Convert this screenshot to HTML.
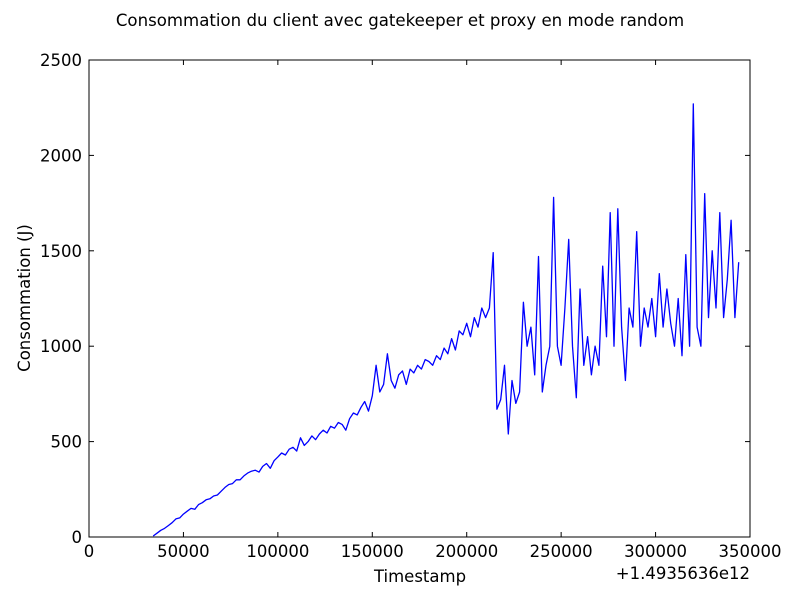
<!DOCTYPE html>
<html><head><meta charset="utf-8"><style>
body{margin:0;background:#fff}
svg text{font-family:"DejaVu Sans","Liberation Sans",sans-serif;fill:#000}
</style></head><body>
<svg id="chart" width="800" height="600" xmlns="http://www.w3.org/2000/svg">
<rect width="800" height="600" fill="#fff"/>
<text x="400" y="26" text-anchor="middle" font-size="16.6">Consommation du client avec gatekeeper et proxy en mode random</text>
<g id="ticks"></g>
<polyline id="line" fill="none" stroke="#0000ff" stroke-width="1.3" stroke-linejoin="round"/>
<rect x="89" y="60" width="661" height="477" fill="none" stroke="#000" stroke-width="1"/>
<text x="420" y="582" text-anchor="middle" font-size="16.5">Timestamp</text>
<text x="750" y="579" text-anchor="end" font-size="16.5">+1.4935636e12</text>
<text transform="translate(30,298) rotate(-90)" text-anchor="middle" font-size="16.5">Consommation (J)</text>
</svg>
<script>
const xStart = 34000;
const xStep = 2000;
const values = [5,20,35,45,60,75,95,100,120,135,150,145,170,180,195,200,215,220,240,260,275,280,300,300,320,335,345,350,340,370,385,360,400,420,
440,430,460,470,450,520,480,500,530,510,540,560,545,580,570,600,590,560,620,650,640,680,710,660,740,900,760,800,960,820,780,850,870,800,880,860,900,880,930,920,900,950,930,990,960,1040,980,1080,1060,1120,1050,1150,1100,1200,1150,1200,1490,670,720,900,540,820,700,760,1230,1000,1100,850,1470,760,900,1000,1780,1000,900,1200,1560,1000,730,1300,900,1050,850,1000,900,1420,1050,1700,1000,1720,1100,820,1200,1100,1600,1000,1200,1100,1250,1050,1380,1100,1300,1120,1000,1250,950,1480,1000,2270,1100,1000,1800,1150,1500,1200,1700,1150,1350,1660,1150,1440];
const xTicks = [0,50000,100000,150000,200000,250000,300000,350000];
const yTicks = [0,500,1000,1500,2000,2500];
const X0=89,X1=750,Y0=537,Y1=60;
const sx=v=>X0+(X1-X0)*v/350000;
const sy=v=>Y0-(Y0-Y1)*v/2500;
const ns="http://www.w3.org/2000/svg";
const g=document.getElementById('ticks');
function mk(tag,attrs){const e=document.createElementNS(ns,tag);for(const k in attrs)e.setAttribute(k,attrs[k]);g.appendChild(e);return e;}
xTicks.forEach(t=>{
  const x=sx(t);
  const a=mk('line',{x1:x,x2:x,y1:Y0,y2:Y0-5,stroke:'#000'});
  
  
  const b=mk('line',{x1:x,x2:x,y1:Y1,y2:Y1+5,stroke:'#000'});
  
  
  const l=mk('text',{x:x,y:Y0+20,'text-anchor':'middle','font-size':'16.5'});
  l.textContent=t;
  
  
});
yTicks.forEach(t=>{
  const y=sy(t);
  const a=mk('line',{x1:X0,x2:X0+5,y1:y,y2:y,stroke:'#000'});
  
  
  const b=mk('line',{x1:X1,x2:X1-5,y1:y,y2:y,stroke:'#000'});
  
  
  const l=mk('text',{x:X0-7,y:y+6,'text-anchor':'end','font-size':'16.5'});
  l.textContent=t;
  
  
});
document.getElementById('line').setAttribute('points',values.map((v,i)=>sx(xStart+i*xStep).toFixed(1)+','+sy(v).toFixed(1)).join(' '));
</script>
</body></html>
